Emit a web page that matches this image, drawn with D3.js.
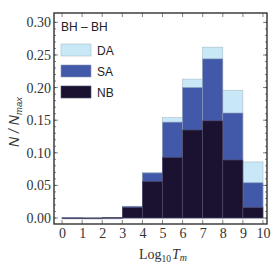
<!DOCTYPE html>
<html><head><meta charset="utf-8">
<script src="https://cdn.jsdelivr.net/npm/d3@7"></script>
<style>body{margin:0;background:#fff;}</style>
</head><body>
<svg id="c" width="273" height="273"></svg>
<script>
const binStarts = [0,1,2,3,4,5,6,7,8,9];
const DA = [0.001,0.001,0.000,0.018,0.070,0.154,0.213,0.262,0.196,0.086];
const SA = [0.001,0.000,0.000,0.018,0.069,0.147,0.200,0.244,0.161,0.054];
const NB = [0.000,0.000,0.001,0.016,0.056,0.093,0.135,0.149,0.089,0.016];
const series = [
  {name:"DA", values:DA, fill:"#c8e8f7", stroke:"#a7bcc8"},
  {name:"SA", values:SA, fill:"#4159a8", stroke:"#8c98b8"},
  {name:"NB", values:NB, fill:"#1b1232", stroke:"#55506a"}
];
const yTicks = [0,0.05,0.10,0.15,0.20,0.25,0.30];
const xTicks = [0,1,2,3,4,5,6,7,8,9,10];

const svg = d3.select("#c");
const L=54, R=267, T=13, B=224;
const x = d3.scaleLinear().domain([-0.4,10.2]).range([L,R]);
const y = d3.scaleLinear().domain([-0.0092,0.3144]).range([B,T]);

series.forEach(s=>{
  svg.append("g").selectAll("rect").data(binStarts).join("rect")
    .attr("x",d=>x(d)).attr("width",d=>x(d+1)-x(d))
    .attr("y",(d,i)=>y(s.values[i])).attr("height",(d,i)=>Math.max(0.8,y(0)-y(s.values[i])))
    .attr("fill",s.fill).attr("stroke",s.stroke).attr("stroke-width",0.6);
});

svg.append("rect").attr("x",L).attr("y",T).attr("width",R-L).attr("height",B-T)
  .attr("fill","none").attr("stroke","#222").attr("stroke-width",1.3);

const yAx = d3.axisLeft(y).tickValues(yTicks).tickFormat(d3.format(".2f")).tickSize(0).tickPadding(3);
const gy = svg.append("g").attr("transform",`translate(${L},0)`).call(yAx);
const xAx = d3.axisBottom(x).tickValues(xTicks).tickFormat(d3.format("d")).tickSize(0).tickPadding(4);
const gx = svg.append("g").attr("transform",`translate(0,${B})`).call(xAx);
[gy,gx].forEach(g=>{g.select(".domain").remove();
  g.selectAll("text").attr("font-family","Liberation Serif, Times New Roman, serif").attr("font-size",14).attr("fill","#333");});

const tk = svg.append("g").attr("stroke","#333").attr("stroke-width",0.6);
yTicks.forEach(v=>{tk.append("line").attr("x1",L).attr("x2",L+4).attr("y1",y(v)).attr("y2",y(v));
  tk.append("line").attr("x1",R).attr("x2",R-4).attr("y1",y(v)).attr("y2",y(v));});
d3.range(0,0.31,0.01).forEach(v=>{tk.append("line").attr("x1",L).attr("x2",L+2).attr("y1",y(v)).attr("y2",y(v));
  tk.append("line").attr("x1",R).attr("x2",R-2).attr("y1",y(v)).attr("y2",y(v));});
xTicks.forEach(v=>{tk.append("line").attr("x1",x(v)).attr("x2",x(v)).attr("y1",B).attr("y2",B-4);
  tk.append("line").attr("x1",x(v)).attr("x2",x(v)).attr("y1",T).attr("y2",T+4);});

const xl = svg.append("text").attr("x",163).attr("y",259).attr("text-anchor","middle")
  .attr("font-family","Liberation Serif, Times New Roman, serif").attr("font-size",14).attr("fill","#333");
xl.append("tspan").text("Log");
xl.append("tspan").text("10").attr("font-size",9.5).attr("dy",3);
xl.append("tspan").text("T").attr("font-style","italic").attr("dy",-3).attr("dx",1);
xl.append("tspan").text("m").attr("font-style","italic").attr("font-size",10).attr("dy",2);

const yl = svg.append("text").attr("transform","translate(19,122) rotate(-90)").attr("text-anchor","middle")
  .attr("font-family","Liberation Sans, Arial, sans-serif").attr("font-size",14).attr("font-style","italic").attr("fill","#333");
yl.append("tspan").text("N / N");
yl.append("tspan").text("max").attr("font-size",9.5).attr("dy",3);

svg.append("text").attr("x",61).attr("y",31).text("BH – BH")
  .attr("font-family","Liberation Sans, Arial, sans-serif").attr("font-size",12).attr("fill","#222");
series.forEach((s,i)=>{
  const yy = 44 + i*21;
  svg.append("rect").attr("x",61).attr("y",yy).attr("width",30).attr("height",12)
    .attr("fill",s.fill).attr("stroke",s.stroke).attr("stroke-width",0.6);
  svg.append("text").attr("x",97).attr("y",yy+10.5).text(s.name)
    .attr("font-family","Liberation Sans, Arial, sans-serif").attr("font-size",12).attr("fill","#222");
});
</script>
</body></html>
